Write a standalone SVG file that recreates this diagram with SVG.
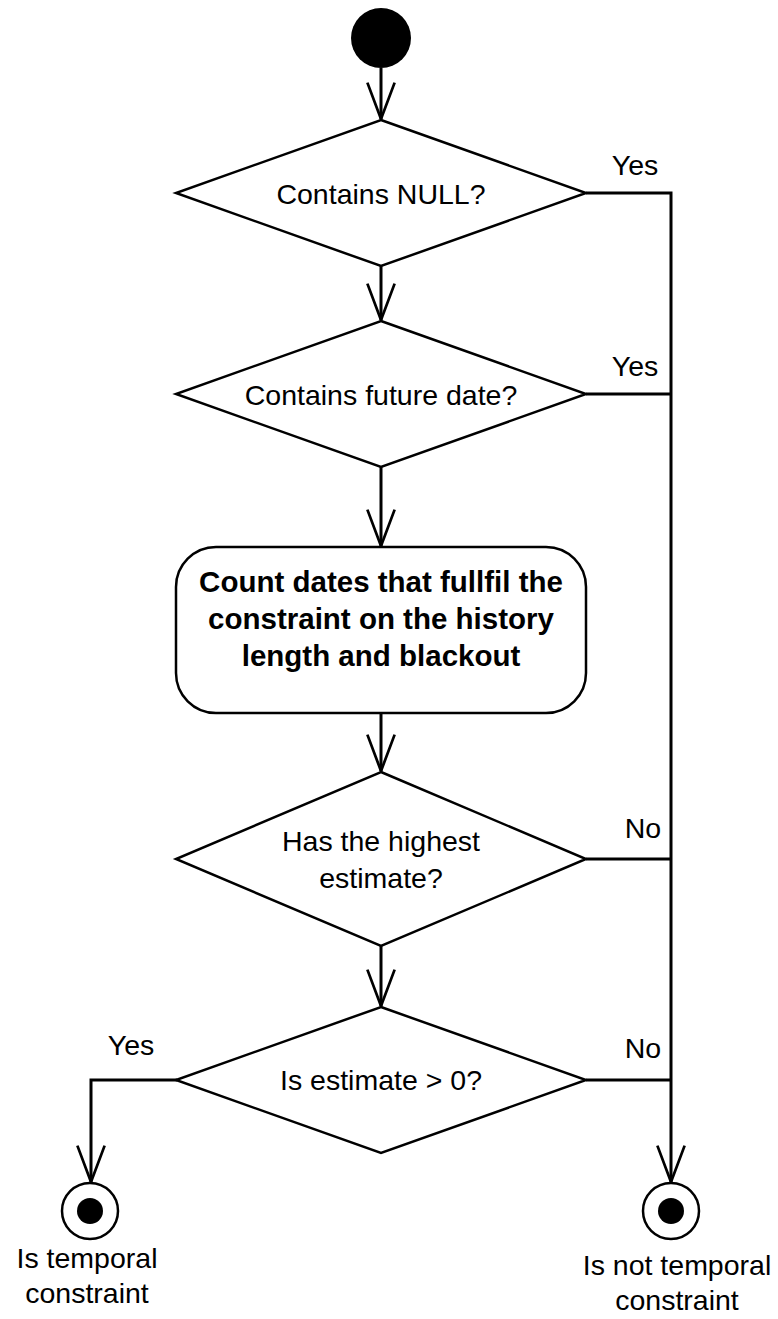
<svg xmlns="http://www.w3.org/2000/svg" width="778" height="1319" viewBox="0 0 778 1319">
<style>
.s{fill:#fff;stroke:#000;stroke-width:2.5}
.c{fill:none;stroke:#000;stroke-width:3}
.t{font-family:"Liberation Sans",Arial,sans-serif;font-size:28.5px;fill:#000;text-anchor:middle}
.b{font-weight:bold;font-size:29.5px}
</style>
<defs>
<marker id="a" markerUnits="userSpaceOnUse" markerWidth="40" markerHeight="40" viewBox="-42 -18 44 36" refX="0" refY="0" orient="auto">
<path d="M-40,-15 L0,0 L-40,15" fill="none" stroke="#000" stroke-width="3"/>
</marker>
</defs>
<rect width="778" height="1319" fill="#fff"/>
<g id="connectors">
<path class="c" d="M381,68 V119" marker-end="url(#a)"/>
<path class="c" d="M381,266 V320" marker-end="url(#a)"/>
<path class="c" d="M381,467 V546" marker-end="url(#a)"/>
<path class="c" d="M381,713 V771" marker-end="url(#a)"/>
<path class="c" d="M381,946 V1006" marker-end="url(#a)"/>
<path class="c" d="M586,193 H671 V1182" marker-end="url(#a)"/>
<path class="c" d="M586,394 H671"/>
<path class="c" d="M586,859 H671"/>
<path class="c" d="M586,1080 H671"/>
<path class="c" d="M177,1080 H91 V1182" marker-end="url(#a)"/>
<text class="t" x="635" y="175">Yes</text>
<text class="t" x="635" y="376">Yes</text>
<text class="t" x="643" y="838">No</text>
<text class="t" x="643" y="1058">No</text>
<text class="t" x="131" y="1055">Yes</text>
</g>
<g id="start"><circle cx="381" cy="38" r="30" fill="#000"/></g>
<g id="d1"><polygon class="s" points="381,120 586,193 381,266 176,193"/><text class="t" x="381" y="204">Contains NULL?</text></g>
<g id="d2"><polygon class="s" points="381,321 586,394 381,467 176,394"/><text class="t" x="381" y="405">Contains future date?</text></g>
<g id="count"><rect class="s" x="176" y="547" width="410" height="166" rx="40"/>
<text class="t b" x="381" y="592">Count dates that fullfil the</text>
<text class="t b" x="381" y="629">constraint on the history</text>
<text class="t b" x="381" y="666">length and blackout</text></g>
<g id="d3"><polygon class="s" points="381,772 586,859 381,946 176,859"/><text class="t" x="381" y="851">Has the highest</text><text class="t" x="381" y="888">estimate?</text></g>
<g id="d4"><polygon class="s" points="381,1007 586,1080 381,1153 176,1080"/><text class="t" x="381" y="1090">Is estimate &gt; 0?</text></g>
<g id="end1"><circle class="s" cx="90" cy="1211" r="28"/><circle cx="90" cy="1211" r="13" fill="#000"/>
<text class="t" x="87" y="1268">Is temporal</text><text class="t" x="87" y="1303">constraint</text></g>
<g id="end2"><circle class="s" cx="671" cy="1211" r="28"/><circle cx="671" cy="1211" r="13" fill="#000"/>
<text class="t" x="677" y="1275">Is not temporal</text><text class="t" x="677" y="1310">constraint</text></g>
</svg>
